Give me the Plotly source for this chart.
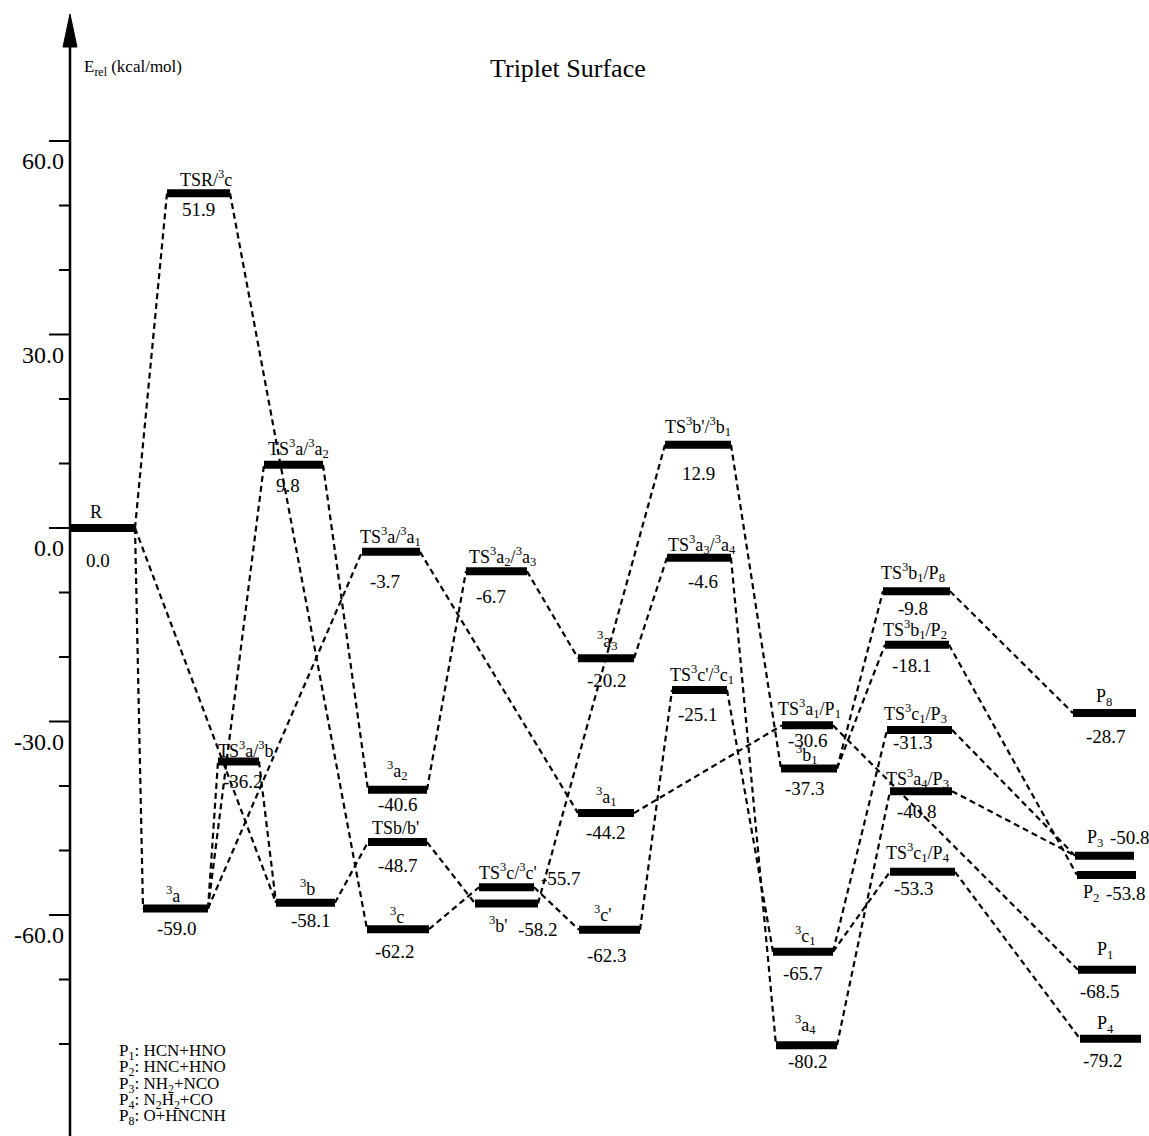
import plotly.graph_objects as go

# ---------------- data ----------------
state_ids = ["R", "TSR_3c", "3a", "TS3a_3b", "TS3a_3a2", "3b", "TS3a_3a1", "3a2", "TSb_b'", "3c",
             "TS3a2_3a3", "TS3c_3c'", "3b'", "3a3", "3a1", "TS3b'_3b1", "TS3a3_3a4", "TS3c'_3c1", "3c'",
             "TS3a1_P1", "3b1", "3c1", "3a4", "TS3b1_P8", "TS3b1_P2", "TS3c1_P3", "TS3a4_P3", "TS3c1_P4",
             "P8", "P3", "P2", "P1", "P4"]
state_labels = ["R", "TSR/<sup>3</sup>c", "<sup>3</sup>a", "TS<sup>3</sup>a/<sup>3</sup>b",
                "TS<sup>3</sup>a/<sup>3</sup>a<sub>2</sub>", "<sup>3</sup>b",
                "TS<sup>3</sup>a/<sup>3</sup>a<sub>1</sub>", "<sup>3</sup>a<sub>2</sub>", "TSb/b'",
                "<sup>3</sup>c", "TS<sup>3</sup>a<sub>2</sub>/<sup>3</sup>a<sub>3</sub>",
                "TS<sup>3</sup>c/<sup>3</sup>c'", "<sup>3</sup>b'", "<sup>3</sup>a<sub>3</sub>",
                "<sup>3</sup>a<sub>1</sub>", "TS<sup>3</sup>b'/<sup>3</sup>b<sub>1</sub>",
                "TS<sup>3</sup>a<sub>3</sub>/<sup>3</sup>a<sub>4</sub>",
                "TS<sup>3</sup>c'/<sup>3</sup>c<sub>1</sub>", "<sup>3</sup>c'",
                "TS<sup>3</sup>a<sub>1</sub>/P<sub>1</sub>", "<sup>3</sup>b<sub>1</sub>",
                "<sup>3</sup>c<sub>1</sub>", "<sup>3</sup>a<sub>4</sub>",
                "TS<sup>3</sup>b<sub>1</sub>/P<sub>8</sub>", "TS<sup>3</sup>b<sub>1</sub>/P<sub>2</sub>",
                "TS<sup>3</sup>c<sub>1</sub>/P<sub>3</sub>", "TS<sup>3</sup>a<sub>4</sub>/P<sub>3</sub>",
                "TS<sup>3</sup>c<sub>1</sub>/P<sub>4</sub>",
                "P<sub>8</sub>", "P<sub>3</sub>", "P<sub>2</sub>", "P<sub>1</sub>", "P<sub>4</sub>"]
energies = [0.0, 51.9, -59.0, -36.2, 9.8, -58.1, -3.7, -40.6, -48.7, -62.2,
            -6.7, -55.7, -58.2, -20.2, -44.2, 12.9, -4.6, -25.1, -62.3,
            -30.6, -37.3, -65.7, -80.2, -9.8, -18.1, -31.3, -40.8, -53.3,
            -28.7, -50.8, -53.8, -68.5, -79.2]

connections = [("R", "TSR_3c"), ("R", "3a"), ("R", "3b"), ("TSR_3c", "3c"),
               ("3a", "TS3a_3b"), ("3a", "TS3a_3a2"), ("3a", "TS3a_3a1"),
               ("TS3a_3b", "3b"), ("TS3a_3a2", "3a2"), ("TS3a_3a1", "3a1"),
               ("3b", "TSb_b'"), ("3a2", "TS3a2_3a3"), ("TSb_b'", "3b'"), ("3c", "TS3c_3c'"),
               ("TS3a2_3a3", "3a3"), ("TS3c_3c'", "3c'"), ("3b'", "TS3b'_3b1"),
               ("3a3", "TS3a3_3a4"), ("3c'", "TS3c'_3c1"), ("3a1", "TS3a1_P1"),
               ("TS3b'_3b1", "3b1"), ("TS3a3_3a4", "3a4"), ("TS3c'_3c1", "3c1"),
               ("3b1", "TS3b1_P8"), ("3b1", "TS3b1_P2"), ("3c1", "TS3c1_P3"), ("3c1", "TS3c1_P4"),
               ("3a4", "TS3a4_P3"), ("TS3a1_P1", "P1"), ("TS3b1_P8", "P8"), ("TS3b1_P2", "P2"),
               ("TS3c1_P3", "P3"), ("TS3a4_P3", "P3"), ("TS3c1_P4", "P4")]

major_ticks = [60, 30, 0, -30, -60]
major_tick_labels = ["60.0", "30.0", "0.0", "-30.0", "-60.0"]
minor_ticks = [50, 40, 20, 10, -10, -20, -40, -50, -70, -80]

legend_lines = ["P<sub>1</sub>: HCN+HNO", "P<sub>2</sub>: HNC+HNO", "P<sub>3</sub>: NH<sub>2</sub>+NCO",
                "P<sub>4</sub>: N<sub>2</sub>H<sub>2</sub>+CO", "P<sub>8</sub>: O+HNCNH"]
title_text = "Triplet Surface"
axis_title = "E<sub>rel</sub> (kcal/mol)"

# ---------------- layout (positions / styles) ----------------
W, H = 1149, 1136
PX0, SCALE = 528.0, 6.45          # pixel row of E=0 and pixels per kcal/mol
def v_of(py):
    return (PX0 - py) / SCALE

bar_x = {
    "R": (70, 135), "TSR_3c": (167, 230), "3a": (143, 208), "TS3a_3b": (218, 259),
    "TS3a_3a2": (264, 323), "3b": (276, 335), "TS3a_3a1": (362, 420), "3a2": (368, 427),
    "TSb_b'": (368, 427), "3c": (367, 429), "TS3a2_3a3": (466, 527), "TS3c_3c'": (479, 534),
    "3b'": (475, 538), "3a3": (578, 634), "3a1": (578, 634), "TS3b'_3b1": (665, 731),
    "TS3a3_3a4": (667, 731), "TS3c'_3c1": (672, 727), "3c'": (579, 640), "TS3a1_P1": (782, 833),
    "3b1": (781, 837), "3c1": (773, 833), "3a4": (776, 837), "TS3b1_P8": (883, 950),
    "TS3b1_P2": (885, 949), "TS3c1_P3": (887, 952), "TS3a4_P3": (890, 952), "TS3c1_P4": (890, 955),
    "P8": (1073, 1136), "P3": (1075, 1134), "P2": (1077, 1136), "P1": (1078, 1136), "P4": (1080, 1141),
}
# (name dx, name dy, value dx, value dy) in pixels, dy positive = downward
label_off = {
    "R": (-7, -16, -5, 32), "TSR_3c": (7, -15, 0, 16), "3a": (-3, -14, 1, 20),
    "TS3a_3b": (7, -12, 4, 20), "TS3a_3a2": (5, -16, -6, 21), "3b": (2, -15, 5, 18),
    "TS3a_3a1": (-1, -15, -6, 30), "3a2": (0, -19, 0, 15), "TSb_b'": (-2, -14, 0, 23),
    "3c": (-1, -14, -3, 22), "TS3a2_3a3": (6, -15, -6, 25), "TS3c_3c'": (1, -16, 54, -9),
    "3b'": (-8, 21, 31, 26), "3a3": (1, -18, 1, 22), "3a1": (0, -17, 0, 19),
    "TS3b'_3b1": (0, -18, 0, 29), "TS3a3_3a4": (3, -13, 4, 24), "TS3c'_3c1": (2, -15, -2, 25),
    "3c'": (-7, -16, -3, 26), "TS3a1_P1": (2, -17, 0, 15), "3b1": (-2, -14, -4, 20),
    "3c1": (2, -16, 0, 22), "3a4": (-1, -21, 1, 16), "TS3b1_P8": (-4, -19, -4, 17),
    "TS3b1_P2": (-2, -15, -5, 21), "TS3c1_P3": (-4, -16, -7, 13), "TS3a4_P3": (-4, -13, -4, 20),
    "TS3c1_P4": (-5, -19, -9, 17), "P8": (-1, -16, 1, 23), "P3": (-10, -17, 25, -18),
    "P2": (-16, 18, 19, 18), "P1": (-2, -19, -7, 22), "P4": (-5, -14, -8, 22),
}

FONT = "Liberation Serif, Times New Roman, serif"
energy_of = dict(zip(state_ids, energies))

fig = go.Figure()

# dashed connectors
cx, cy = [], []
for a, b in connections:
    cx += [bar_x[a][1], bar_x[b][0], None]
    cy += [energy_of[a], energy_of[b], None]
fig.add_trace(go.Scatter(x=cx, y=cy, mode="lines", hoverinfo="skip",
                         line=dict(color="black", width=2.2, dash="6px,4px")))

# energy levels
bx, by = [], []
for sid in state_ids:
    x0, x1 = bar_x[sid]
    bx += [x0, x1, None]
    by += [energy_of[sid], energy_of[sid], None]
fig.add_trace(go.Scatter(x=bx, y=by, mode="lines", hoverinfo="skip",
                         line=dict(color="black", width=8)))

ann = []
for sid, lab, e in zip(state_ids, state_labels, energies):
    x0, x1 = bar_x[sid]
    c = (x0 + x1) / 2
    ndx, ndy, vdx, vdy = label_off[sid]
    ann.append(dict(x=c + ndx, y=e, yshift=-ndy, text=lab, showarrow=False,
                    xanchor="center", yanchor="middle", font=dict(family=FONT, size=18, color="black")))
    ann.append(dict(x=c + vdx, y=e, yshift=-vdy, text=f"{e:.1f}", showarrow=False,
                    xanchor="center", yanchor="middle", font=dict(family=FONT, size=19, color="black")))

# axis
AX = 70
shapes = [dict(type="line", x0=AX, x1=AX, y0=v_of(40), y1=v_of(H), line=dict(color="black", width=2.5)),
          dict(type="path", path=f"M {AX-7},{v_of(47)} L {AX},{v_of(14)} L {AX+7},{v_of(47)} Z",
               fillcolor="black", line=dict(color="black", width=1))]
for t in major_ticks:
    shapes.append(dict(type="line", x0=AX - 21, x1=AX, y0=t, y1=t, line=dict(color="black", width=2)))
for t in minor_ticks:
    shapes.append(dict(type="line", x0=AX - 11, x1=AX, y0=t, y1=t, line=dict(color="black", width=2)))
for t, lab in zip(major_ticks, major_tick_labels):
    ann.append(dict(x=AX - 4, y=t, yshift=-20, text=lab, showarrow=False, xanchor="right",
                    yanchor="middle", font=dict(family=FONT, size=24, color="black")))

ann.append(dict(x=82, y=v_of(68), text=axis_title, showarrow=False, xanchor="left", yanchor="middle",
                font=dict(family=FONT, size=17, color="black")))
ann.append(dict(x=568, y=v_of(68), text=title_text, showarrow=False, xanchor="center", yanchor="middle",
                font=dict(family=FONT, size=26, color="black")))
for i, line in enumerate(legend_lines):
    ann.append(dict(x=117, y=v_of(1052 + 16.3 * i), text=line, showarrow=False, xanchor="left",
                    yanchor="middle", font=dict(family=FONT, size=17, color="black")))

fig.update_layout(
    width=W, height=H, margin=dict(l=0, r=0, t=0, b=0),
    paper_bgcolor="white", plot_bgcolor="white", showlegend=False,
    xaxis=dict(visible=False, range=[0, W], fixedrange=True),
    yaxis=dict(visible=False, range=[v_of(H), v_of(0)], fixedrange=True),
    shapes=shapes, annotations=ann,
)
fig.write_html("out.html", post_script="document.body.style.margin='0';", config={"displayModeBar": False})
